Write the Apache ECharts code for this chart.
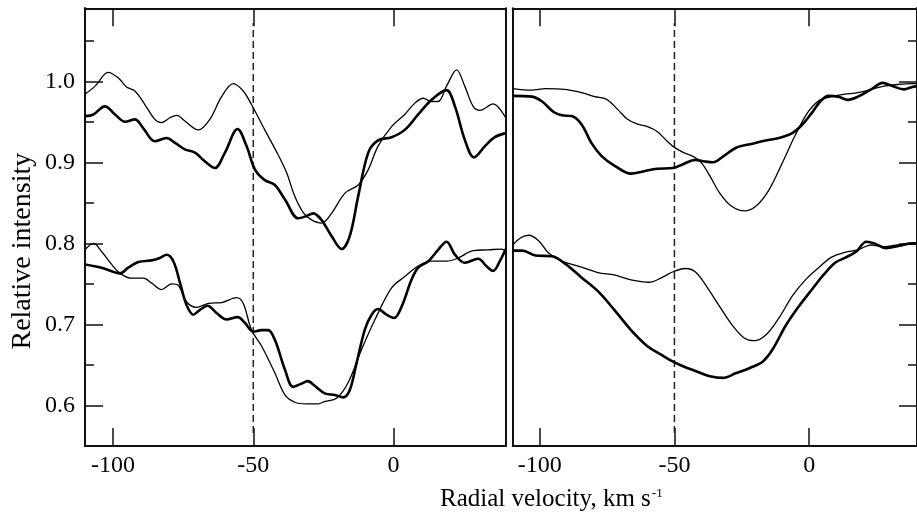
<!DOCTYPE html>
<html>
<head>
<meta charset="utf-8">
<script src="https://cdn.jsdelivr.net/npm/echarts@6/dist/echarts.min.js"></script>
<style>
  html, body { margin: 0; padding: 0; background: #fff; }
  #chart { width: 917px; height: 521px; }
</style>
</head>
<body>
<div id="chart"></div>
<script>
// velocity ticks / intensity ticks
var xTicks = [-100, -50, 0];
var yMajor = [0.6, 0.7, 0.8, 0.9, 1.0];
var yMinor = [0.65, 0.75, 0.85, 0.95, 1.05];
var dashX = -50;

// left panel, upper pair  [velocity, intensity]
var leftTopThin = [[-110,0.984],[-106.4,0.994],[-101.7,1.011],[-98.1,1.004],[-95.2,0.993],[-92.2,0.988],[-88.6,0.971],[-85.1,0.953],[-82.7,0.949],[-79.7,0.955],[-77.3,0.958],[-74.4,0.951],[-69.6,0.940],[-65.5,0.953],[-61.3,0.981],[-57.1,0.997],[-53.6,0.988],[-50.6,0.971],[-45.9,0.940],[-41.1,0.909],[-38.1,0.887],[-35.2,0.858],[-32.2,0.838],[-29.2,0.829],[-25.7,0.825],[-22.1,0.837],[-17.3,0.862],[-12.6,0.872],[-9.0,0.891],[-5.5,0.920],[-0.7,0.944],[4.0,0.959],[7.6,0.973],[10.6,0.979],[13.5,0.975],[15.9,0.975],[18.9,0.994],[22.5,1.014],[25.4,0.994],[28.4,0.969],[30.8,0.964],[35.5,0.972],[40,0.955]];
var leftTopThick = [[-110,0.957],[-107,0.959],[-102.9,0.969],[-99.3,0.959],[-95.7,0.950],[-92.2,0.953],[-89.2,0.942],[-85.1,0.926],[-80.9,0.930],[-77.9,0.924],[-74.4,0.916],[-70.8,0.912],[-67.2,0.901],[-63.7,0.893],[-60.1,0.912],[-55.6,0.941],[-52.4,0.920],[-49.4,0.891],[-45.9,0.878],[-42.3,0.872],[-38.7,0.854],[-34.0,0.831],[-31.6,0.833],[-28.6,0.837],[-25.7,0.829],[-22.1,0.809],[-18.5,0.793],[-15.6,0.809],[-12.6,0.858],[-9.0,0.912],[-5.5,0.927],[-0.7,0.931],[4.0,0.940],[8.8,0.959],[13.5,0.977],[18.9,0.989],[21.9,0.969],[25.4,0.928],[28.7,0.906],[32.6,0.920],[36.1,0.931],[40,0.936]];

// left panel, lower pair
var leftLowThin = [[-110,0.792],[-107,0.800],[-104.1,0.790],[-100.5,0.774],[-97.5,0.763],[-93.4,0.757],[-89.2,0.757],[-86.2,0.751],[-82.7,0.743],[-79.1,0.750],[-76.7,0.748],[-73.8,0.728],[-70.2,0.721],[-66.0,0.726],[-61.3,0.727],[-55.9,0.733],[-53.6,0.726],[-50.6,0.693],[-47.0,0.673],[-42.3,0.640],[-38.7,0.613],[-35.2,0.604],[-31.0,0.602],[-26.8,0.602],[-24.5,0.605],[-20.3,0.609],[-16.2,0.628],[-11.4,0.669],[-6.6,0.706],[-0.7,0.745],[4.0,0.759],[8.8,0.772],[13.5,0.778],[18.9,0.778],[23.1,0.782],[28.4,0.791],[33.7,0.792],[38.5,0.793],[40,0.791]];
var leftLowThick = [[-110,0.774],[-104.1,0.770],[-97.5,0.763],[-94.6,0.770],[-91.0,0.777],[-86.2,0.779],[-83.3,0.782],[-80.9,0.786],[-78.5,0.778],[-76.1,0.751],[-73.8,0.724],[-71.4,0.712],[-69.0,0.718],[-66.3,0.723],[-63.1,0.714],[-59.5,0.706],[-55.6,0.709],[-53.0,0.702],[-50.0,0.691],[-47.0,0.693],[-44.7,0.693],[-42.3,0.681],[-38.7,0.644],[-35.8,0.623],[-32.8,0.627],[-30.6,0.630],[-28.0,0.624],[-24.5,0.615],[-20.9,0.613],[-17.9,0.610],[-15.6,0.619],[-13.2,0.652],[-10.2,0.694],[-7.8,0.712],[-5.5,0.719],[-2.5,0.712],[0.2,0.708],[2.9,0.722],[6.4,0.755],[8.8,0.770],[12.4,0.778],[15.9,0.792],[18.9,0.802],[21.9,0.786],[25.4,0.776],[30.2,0.781],[33.1,0.772],[35.5,0.766],[37.9,0.778],[40,0.793]];

// right panel, upper pair
var rightTopThin = [[-110,0.991],[-102.8,0.989],[-97.9,0.991],[-90.6,0.990],[-84.5,0.986],[-79.6,0.981],[-75.3,0.978],[-71.0,0.965],[-67.4,0.953],[-63.7,0.947],[-60.0,0.944],[-56.4,0.938],[-52.7,0.926],[-50.3,0.919],[-46.6,0.912],[-42.9,0.907],[-39.9,0.899],[-36.8,0.883],[-33.2,0.862],[-28.9,0.846],[-24.0,0.840],[-19.7,0.846],[-14.9,0.866],[-10.0,0.899],[-5.1,0.934],[-0.2,0.963],[4.1,0.977],[8.3,0.981],[13.2,0.984],[18.1,0.986],[23.0,0.990],[27.9,0.994],[32.8,0.996],[38.2,0.997],[40,0.997]];
var rightTopThick = [[-110,0.982],[-102.8,0.981],[-99.1,0.975],[-94.8,0.962],[-91.8,0.958],[-88.1,0.957],[-84.5,0.947],[-80.8,0.924],[-77.1,0.908],[-72.3,0.896],[-66.1,0.886],[-61.3,0.889],[-56.4,0.892],[-50.5,0.893],[-46.6,0.898],[-42.3,0.903],[-38.7,0.901],[-35.6,0.900],[-32.0,0.907],[-27.1,0.918],[-21.0,0.923],[-16.1,0.927],[-11.2,0.930],[-6.3,0.936],[-2.7,0.946],[1.0,0.961],[4.1,0.975],[7.1,0.982],[10.8,0.981],[14.4,0.977],[18.1,0.981],[23.0,0.990],[27.3,0.998],[30.9,0.994],[35.2,0.990],[38.2,0.993],[40,0.994]];

// right panel, lower pair
var rightLowThin = [[-110,0.798],[-107.0,0.807],[-104.0,0.810],[-100.3,0.803],[-96.7,0.788],[-91.8,0.778],[-85.7,0.772],[-78.4,0.764],[-72.3,0.761],[-66.1,0.755],[-59.4,0.752],[-55.1,0.757],[-50.5,0.765],[-46.0,0.769],[-42.3,0.765],[-38.1,0.747],[-33.2,0.722],[-28.3,0.698],[-24.0,0.683],[-20.4,0.680],[-16.1,0.687],[-11.2,0.708],[-6.3,0.735],[-1.4,0.755],[3.5,0.770],[8.3,0.783],[13.2,0.789],[18.1,0.792],[23.0,0.798],[27.9,0.796],[32.8,0.798],[38.2,0.799],[40,0.799]];
var rightLowThick = [[-110,0.791],[-106.4,0.791],[-101.5,0.785],[-95.4,0.784],[-90.6,0.775],[-84.5,0.758],[-78.4,0.741],[-72.3,0.718],[-66.1,0.693],[-60.0,0.673],[-55.1,0.663],[-50.5,0.654],[-46.6,0.648],[-41.7,0.642],[-36.8,0.636],[-32.0,0.634],[-27.1,0.640],[-22.2,0.646],[-17.3,0.654],[-13.6,0.669],[-8.8,0.698],[-3.9,0.722],[1.0,0.743],[5.3,0.761],[9.6,0.776],[13.2,0.782],[17.5,0.790],[21.2,0.802],[24.2,0.800],[28.5,0.794],[33.4,0.797],[38.2,0.800],[40,0.800]];

var dashLine = [[dashX, 0.566], [dashX, 1.072]];

var FONT = '"Liberation Serif", "DejaVu Serif", serif';
var X_MIN = -110, X_MAX = 40, Y_MIN = 0.55, Y_MAX = 1.09;
var frame = { show: true, onZero: false, lineStyle: { color: '#111', width: 2 } };

function xAx (grid, pos, labels) {
  return {
    type: 'value', gridIndex: grid, position: pos, min: X_MIN, max: X_MAX,
    axisLine: frame, splitLine: { show: false },
    axisTick: { show: true, inside: true, length: 18, customValues: xTicks, lineStyle: { color: '#111', width: 1.5 } },
    axisLabel: { show: labels, customValues: xTicks, margin: 8, color: '#000', fontFamily: FONT, fontSize: 24 }
  };
}

function yAx (grid, pos, ticks, len, labels) {
  return {
    type: 'value', gridIndex: grid, position: pos, min: Y_MIN, max: Y_MAX,
    axisLine: frame, splitLine: { show: false },
    axisTick: { show: !!ticks, inside: true, length: len, customValues: ticks || [], lineStyle: { color: '#111', width: 1.5 } },
    axisLabel: { show: labels, customValues: ticks || [], margin: 10, color: '#000', fontFamily: FONT, fontSize: 24,
      formatter: function (v) { return v.toFixed(1); } }
  };
}

function curve (data, xi, yi, w) {
  return {
    type: 'line', data: data, xAxisIndex: xi, yAxisIndex: yi,
    symbol: 'none', smooth: 0.35, silent: true,
    lineStyle: { color: '#000', width: w }
  };
}

function dashed (xi, yi) {
  return {
    type: 'line', data: dashLine, xAxisIndex: xi, yAxisIndex: yi,
    symbol: 'none', silent: true,
    lineStyle: { color: '#222', width: 1.5, type: [7, 4] }
  };
}

var chart = echarts.init(document.getElementById('chart'), null, { renderer: 'canvas' });

var yLeft = yAx(0, 'left', yMajor, 18, true);
yLeft.name = 'Relative intensity';
yLeft.nameLocation = 'middle';
yLeft.nameGap = 48;
// padding on the right pushes the rotated name down a little
yLeft.nameTextStyle = { color: '#000', fontFamily: FONT, fontSize: 28, padding: [0, 48, 0, 0] };

chart.setOption({
  animation: false,
  backgroundColor: '#fff',
  title: {
    text: 'Radial velocity, km s{sup|-1}',
    left: 440, top: 487, padding: 0,
    textStyle: {
      color: '#000', fontFamily: FONT, fontSize: 25, fontWeight: 'normal',
      rich: { sup: { color: '#000', fontFamily: FONT, fontSize: 13, verticalAlign: 'top', padding: [0, 0, 0, 1] } }
    }
  },
  grid: [
    { left: 85, top: 8.3, width: 420.7, height: 437.7 },
    { left: 512.7, top: 8.3, width: 409.3, height: 437.7 }
  ],
  xAxis: [
    xAx(0, 'bottom', true),
    xAx(0, 'top', false),
    xAx(1, 'bottom', true),
    xAx(1, 'top', false)
  ],
  yAxis: [
    yLeft,
    yAx(0, 'left', yMinor, 9, false),
    yAx(0, 'right', null, 0, false),
    yAx(1, 'left', null, 0, false),
    yAx(1, 'right', yMajor, 18, false),
    yAx(1, 'right', yMinor, 9, false)
  ],
  series: [
    dashed(0, 0),
    curve(leftTopThin, 0, 0, 1.3),
    curve(leftTopThick, 0, 0, 2.6),
    curve(leftLowThin, 0, 0, 1.3),
    curve(leftLowThick, 0, 0, 2.6),
    dashed(2, 3),
    curve(rightTopThin, 2, 3, 1.3),
    curve(rightTopThick, 2, 3, 2.6),
    curve(rightLowThin, 2, 3, 1.3),
    curve(rightLowThick, 2, 3, 2.6)
  ]
});
</script>
</body>
</html>
